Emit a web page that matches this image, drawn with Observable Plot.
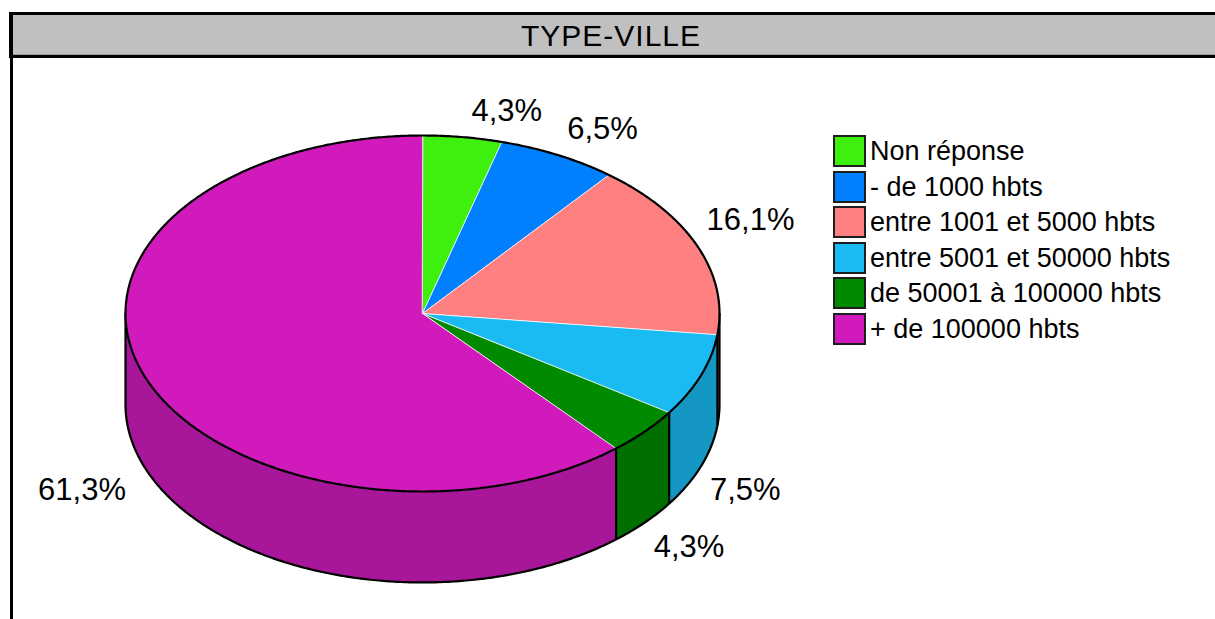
<!DOCTYPE html>
<html>
<head>
<meta charset="utf-8">
<script src="https://cdn.jsdelivr.net/npm/d3@7"></script>
<script src="https://cdn.jsdelivr.net/npm/@observablehq/plot@0.6"></script>
<style>
  body { margin: 0; background: #fff; }
  #wrap { position: relative; width: 1215px; height: 619px; overflow: hidden; background: #fff;
          font-family: "Liberation Sans", Arial, sans-serif; color: #000; }
  #title { position: absolute; left: 9px; top: 12px; width: 1230px; height: 40px;
           border-top: 3px solid #000; border-bottom: 3px solid #000; border-left: 4px solid #000;
           border-right: none; background: #c0c0c0; box-shadow: inset 0 -1px 0 #9a9a9a; }
  #title span { position: absolute; left: 598px; top: 1px; transform: translateX(-50%);
                font-size: 30px; line-height: 40px; letter-spacing: 1px; white-space: nowrap; }
  #leftline { position: absolute; left: 10px; top: 58px; width: 3px; height: 561px; background: #000; }
  #chart { position: absolute; left: 0; top: 58px; }
  #legend { position: absolute; left: 833px; top: 135px; }
  .row { display: flex; align-items: flex-start; height: 35.6px; }
  .sw { width: 29px; height: 28px; border: 2px solid #1e1e1e; flex: none; }
  .lt { font-size: 27px; line-height: 32px; margin-left: 4px; white-space: nowrap; }
</style>
</head>
<body>
<div id="wrap">
  <div id="title"><span>TYPE-VILLE</span></div>
  <div id="leftline"></div>
  <div id="chart"></div>
  <div id="legend"></div>
</div>
<script>
// ---- data ----
const categories = ["Non réponse", "- de 1000 hbts", "entre 1001 et 5000 hbts",
                    "entre 5001 et 50000 hbts", "de 50001 à 100000 hbts", "+ de 100000 hbts"];
const percents = [4.3, 6.5, 16.1, 7.5, 4.3, 61.3];
const labels = ["4,3%", "6,5%", "16,1%", "7,5%", "4,3%", "61,3%"];

// ---- palette ----
const topColors  = ["#3ff00f", "#0080ff", "#ff8080", "#1abbf3", "#008a00", "#d01abb"];
const sideColors = ["#33c00c", "#0066cc", "#cc6666", "#1597c3", "#006e00", "#a8169a"];

// ---- geometry (unit ellipse, y down) ----
const D = 0.511;            // pie thickness in y units
const step = Math.PI / 360;
const pie = d3.pie().sort(null).value(d => d)(percents);

function arcPts(a0, a1, dz) {
  const n = Math.max(2, Math.ceil(Math.abs(a1 - a0) / step));
  return d3.range(n + 1).map(k => {
    const a = a0 + (a1 - a0) * k / n;
    return {x: Math.sin(a), y: -Math.cos(a) + dz};
  });
}

const topFaces = pie.flatMap((p, i) =>
  [{x: 0, y: 0}, ...arcPts(p.startAngle, p.endAngle, 0)]
    .map(pt => ({...pt, id: i, color: topColors[i]})));

const sideFaces = pie.flatMap((p, i) => {
  const s0 = Math.max(p.startAngle, Math.PI / 2), s1 = Math.min(p.endAngle, 3 * Math.PI / 2);
  if (s1 <= s0) return [];
  return [...arcPts(s0, s1, 0), ...arcPts(s1, s0, D)]
    .map(pt => ({...pt, id: i, color: sideColors[i]}));
});

const edgeAngles = [Math.PI / 2,
  ...pie.map(p => p.startAngle).filter(a => a > Math.PI / 2 && a < 3 * Math.PI / 2),
  3 * Math.PI / 2];
const edges = edgeAngles.map(a => ({x: Math.sin(a), y1: -Math.cos(a), y2: -Math.cos(a) + D}));

const labelData = pie.map((p, i) => {
  const m = (p.startAngle + p.endAngle) / 2;
  const back = Math.cos(m) >= 0, right = Math.sin(m) >= 0;
  return {x: Math.sin(m), y: -Math.cos(m) + (back ? 0 : D), label: labels[i], back, right};
});

const fs = 31, mid = 0.32 * fs;
const textBase = {x: "x", y: "y", text: "label", fontSize: fs, fill: "#000"};

const chart = Plot.plot({
  width: 1215,
  height: 561,
  margin: 0,
  x: {domain: [-1, 1], range: [125, 719], axis: null},
  y: {domain: [-1, 1], range: [77, 433], axis: null},
  style: {fontFamily: "'Liberation Sans', Arial, sans-serif", background: "transparent", overflow: "visible"},
  marks: [
    Plot.line(sideFaces, {x: "x", y: "y", z: "id", fill: "color", stroke: "color", strokeWidth: 0.5, curve: "linear-closed"}),
    Plot.ruleX(edges, {x: "x", y1: "y1", y2: "y2", stroke: "#000", strokeWidth: 2.2}),
    Plot.line(topFaces, {x: "x", y: "y", z: "id", fill: "color", stroke: "#fff", strokeWidth: 0.8, curve: "linear-closed"}),
    Plot.line(arcPts(0, 2 * Math.PI, 0), {x: "x", y: "y", curve: "linear-closed", stroke: "#000", strokeWidth: 2.2}),
    Plot.line(arcPts(Math.PI / 2, 3 * Math.PI / 2, D), {x: "x", y: "y", stroke: "#000", strokeWidth: 2.2}),
    Plot.text(labelData, {...textBase, filter: d => d.back && d.right, textAnchor: "start", dx: 9, dy: -16 - mid}),
    Plot.text(labelData, {...textBase, filter: d => !d.back && d.right, textAnchor: "start", dx: 9, dy: 34 - mid}),
    Plot.text(labelData, {...textBase, filter: d => !d.back && !d.right, textAnchor: "end", dx: -18, dy: 34 - mid}),
    Plot.text(labelData, {...textBase, filter: d => d.back && !d.right, textAnchor: "end", dx: -18, dy: -16 - mid})
  ]
});
document.getElementById("chart").appendChild(chart);

// ---- legend ----
const legend = document.getElementById("legend");
categories.forEach((c, i) => {
  const row = document.createElement("div");
  row.className = "row";
  const sw = document.createElement("div");
  sw.className = "sw";
  sw.style.background = topColors[i];
  const t = document.createElement("div");
  t.className = "lt";
  t.textContent = c;
  row.appendChild(sw);
  row.appendChild(t);
  legend.appendChild(row);
});
</script>
</body>
</html>
